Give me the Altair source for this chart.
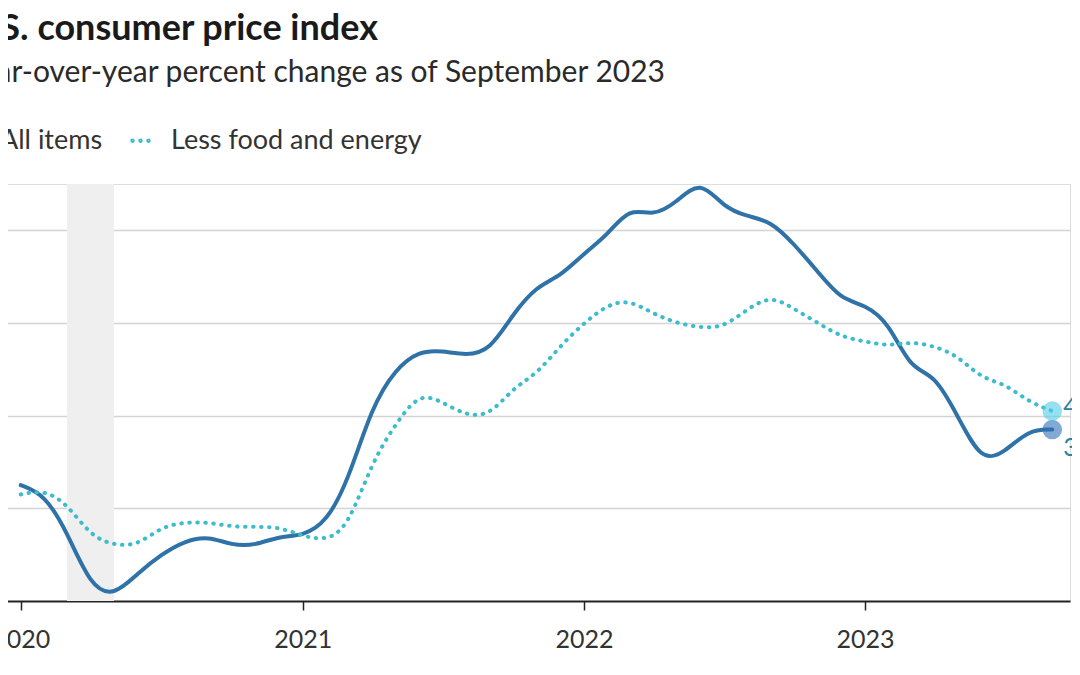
import altair as alt
import pandas as pd

# ---------------- data ----------------
months = [d.strftime("%Y-%m-%d") for d in pd.date_range("2020-01-01", "2023-09-01", freq="MS")]
all_items = [2.5, 2.3, 1.5, 0.3, 0.1, 0.6, 1.0, 1.3, 1.4, 1.2, 1.2, 1.4,
             1.4, 1.7, 2.6, 4.2, 5.0, 5.4, 5.4, 5.3, 5.4, 6.2, 6.8, 7.0,
             7.5, 7.9, 8.5, 8.3, 8.6, 9.1, 8.5, 8.3, 8.2, 7.7, 7.1, 6.5,
             6.4, 6.0, 5.0, 4.9, 4.0, 3.0, 3.2, 3.7, 3.7]
core = [2.3, 2.4, 2.1, 1.4, 1.2, 1.2, 1.6, 1.7, 1.7, 1.6, 1.6, 1.6,
        1.4, 1.3, 1.6, 3.0, 3.8, 4.5, 4.3, 4.0, 4.0, 4.6, 4.9, 5.5,
        6.0, 6.4, 6.5, 6.2, 6.0, 5.9, 5.9, 6.3, 6.6, 6.3, 6.0, 5.7,
        5.6, 5.5, 5.6, 5.5, 5.3, 4.8, 4.7, 4.3, 4.1]
series_names = ["All items", "Less food and energy"]
recession_start = ["2020-03-01"]
recession_end = ["2020-05-01"]
title_text = ["U.S. consumer price index"]
subtitle_text = ["Year-over-year percent change as of September 2023"]

# ---------------- frames ----------------
df = pd.DataFrame({
    "date": months * 2,
    "value": all_items + core,
    "series": [series_names[0]] * len(months) + [series_names[1]] * len(months),
})
last = df.groupby("series", as_index=False).last()
rec = pd.DataFrame({"start": recession_start, "end": recession_end})

FONT = "Lato"
BLUE = "#2f72a8"
TEAL = "#3dbccb"


def ring(cx, r):
    return f"M{cx - r},0a{r},{r} 0 1,0 {2 * r},0a{r},{r} 0 1,0 {-2 * r},0"


# legend swatch: three small solid dots (concentric rings so they look filled)
DOTS_SYMBOL = " ".join(ring(c, r) for c in (-0.76, 0.0, 0.76) for r in (0.12, 0.05))

xscale = alt.Scale(domain=[alt.DateTime(year=2019, month=12, date=9),
                           alt.DateTime(year=2023, month=9, date=24)])
yscale = alt.Scale(domain=[0, 9], nice=False, zero=False)
cscale = alt.Scale(domain=series_names, range=[BLUE, TEAL])

x_axis = alt.Axis(title=None, format="%Y",
                  values=[alt.DateTime(year=y, month=1, date=1) for y in [2020, 2021, 2022, 2023]],
                  labelFont=FONT, labelFontSize=25, labelColor="#333333",
                  labelPadding=17, tickColor="#222222", tickSize=9, tickWidth=1.5,
                  domainColor="#222222", domainWidth=2, grid=False)
y_axis = alt.Axis(title=None, values=[2, 4, 6, 8], labels=False, ticks=False,
                  domain=False, grid=True, gridColor="#d4d4d4", gridWidth=1.5)

base = alt.Chart(df)

shade = alt.Chart(rec).mark_rect(color="#efefef").encode(
    x=alt.X("start:T", scale=xscale, axis=x_axis),
    x2="end:T",
    y=alt.datum(0, scale=yscale, axis=y_axis),
    y2=alt.datum(9),
)

legend = alt.Legend(orient="none", legendX=-47, legendY=-57, direction="horizontal",
                    title=None, symbolType=DOTS_SYMBOL, symbolSize=441, symbolStrokeWidth=2,
                    symbolOpacity=1, labelFont=FONT, labelFontSize=27, labelColor="#333333",
                    labelLimit=600, labelOffset=17, columnPadding=24)

line_all = base.transform_filter(alt.datum.series == series_names[0]).mark_line(
    interpolate="basis", strokeWidth=4, strokeCap="round").encode(
    x=alt.X("date:T", scale=xscale, axis=x_axis),
    y=alt.Y("value:Q", scale=yscale, axis=y_axis),
    color=alt.Color("series:N", scale=cscale, legend=legend),
)
line_core = base.transform_filter(alt.datum.series == series_names[1]).mark_line(
    interpolate="basis", strokeWidth=4, strokeCap="round", strokeDash=[0.5, 7.5]).encode(
    x=alt.X("date:T", scale=xscale, axis=x_axis),
    y=alt.Y("value:Q", scale=yscale, axis=y_axis),
    color=alt.Color("series:N", scale=cscale, legend=legend),
)

dot_all = alt.Chart(last).mark_circle(size=380, opacity=0.6, color="#2f6fb5").encode(
    x="date:T", y="value:Q"
).transform_filter(alt.datum.series == series_names[0])
dot_core = alt.Chart(last).mark_circle(size=380, opacity=0.6, color="#4fcbe8").encode(
    x="date:T", y="value:Q"
).transform_filter(alt.datum.series == series_names[1])

lab_all = alt.Chart(last).mark_text(align="left", baseline="middle", dx=11, dy=18,
                                    font=FONT, fontSize=25, color="#2a84a0").encode(
    x="date:T", y="value:Q", text=alt.Text("value:Q", format=".1f")
).transform_filter(alt.datum.series == series_names[0])
lab_core = alt.Chart(last).mark_text(align="left", baseline="middle", dx=11, dy=-4,
                                     font=FONT, fontSize=25, color="#2a84a0").encode(
    x="date:T", y="value:Q", text=alt.Text("value:Q", format=".1f")
).transform_filter(alt.datum.series == series_names[1])

title = alt.Chart(pd.DataFrame({"t": title_text})).mark_text(
    align="right", baseline="alphabetic", font=FONT, fontSize=36, fontWeight="bold",
    color="#1a1a1a").encode(x=alt.value(375), y=alt.value(-144), text="t:N")
subtitle = alt.Chart(pd.DataFrame({"t": subtitle_text})).mark_text(
    align="right", baseline="alphabetic", font=FONT, fontSize=30,
    color="#2a2a2a").encode(x=alt.value(662), y=alt.value(-102), text="t:N")

chart = alt.layer(shade, line_all, line_core, dot_all, dot_core, lab_all, lab_core,
                  title, subtitle).properties(
    width=1067, height=417,
    autosize=alt.AutoSizeParams(type="none"),
    padding={"left": -5, "top": 176, "right": 2, "bottom": 60},
).configure_view(stroke=None).configure(background="white")

chart.save("out.html", embed_options={"renderer": "svg", "actions": False})
